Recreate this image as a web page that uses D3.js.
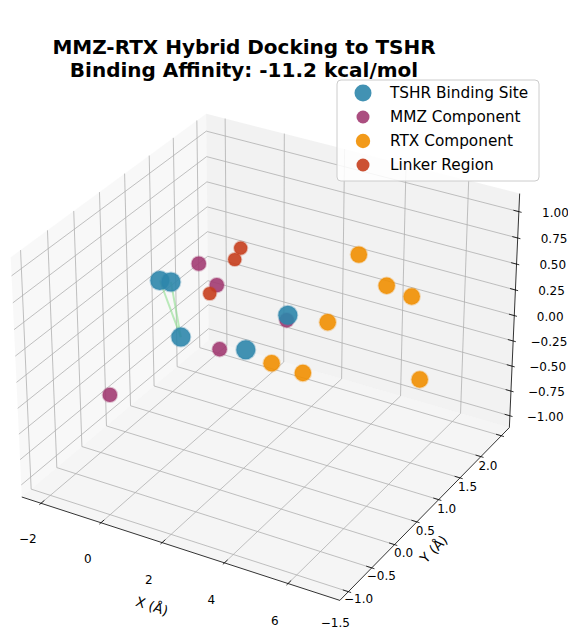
<!DOCTYPE html>
<html><head><meta charset="utf-8">
<script src="https://cdn.jsdelivr.net/npm/d3@7"></script>
<style>
body{margin:0;background:#fff}
svg{display:block}
text{font-family:"DejaVu Sans",sans-serif;fill:#000}
</style>
</head><body>
<svg id="chart" width="568" height="630"></svg>
<script>
// ---------------- data ----------------
const seriesNames = ["TSHR Binding Site", "MMZ Component", "RTX Component", "Linker Region"];
const seriesColors = ["#2E86AB", "#A23B72", "#F18F01", "#C73E1D"];

const tshrX = [-1.54, -0.67, -0.86, 1.94, 2.87];
const tshrY = [0.5, 0.2, 0.5, 1.0, -0.5];
const tshrZ = [0.23, 0.40, -0.27, -0.01, 0.32];

const mmzX = [-1.03, -0.11, -0.67, 1.15, -1.63];
const mmzY = [1.0, 0.8, 1.2, 1.5, -0.5];
const mmzZ = [0.25, 0.19, -0.65, -0.32, -0.51];

const rtxX = [3.51, 4.84, 6.18, 4.70, 4.45, 5.71, 6.23];
const rtxY = [1.5, 1.2, 0.8, 0.0, -1.0, -1.2, 1.0];
const rtxZ = [0.52, 0.44, 0.60, 0.54, 0.53, 0.63, -0.27];

const linkX = [-0.40, -0.29, -0.03];
const linkY = [1.5, 1.3, 0.6];
const linkZ = [0.27, 0.24, 0.19];

// TSHR index pairs joined by interaction lines
const interactions = [[0, 2], [1, 2]];

const xTicks = [-2, 0, 2, 4, 6];
const yTicks = [-1.5, -1.0, -0.5, 0.0, 0.5, 1.0, 1.5, 2.0];
const zTicks = [-1.0, -0.75, -0.5, -0.25, 0.0, 0.25, 0.5, 0.75, 1.0];

const xLim = [-2.65, 7.6], yLim = [-1.68, 2.2], zLim = [-1.12, 1.17];

const titleLines = ["MMZ-RTX Hybrid Docking to TSHR", "Binding Affinity: -11.2 kcal/mol"];
const axisLabels = ["X (Å)", "Y (Å)", "Z (Å)"];

// ---------------- styles / layout ----------------
const radii = [9.5, 7.2, 8.2, 6.6];
const legendRadii = [8.5, 6.5, 7.2, 6.5];
const VIEW = {elev: 30, azim: -60, dist: 10, cx: 269.9, cy: 345.8, k: 3189};
// label offsets (fractions of each axis range, outward positive) and pixel dy
const tickPush = [[0, 0.07, 0.105, 0], [-0.038, 0, 0.152, 0], [0.075, 0.075, 0, 6]];
const labelPush = [[0, 0.13, 0.15], [0.02, 0, 0.16], [0.13, 0.13, 0]];

const svg = d3.select("#chart");

// ---------------- 3D projection (matplotlib-like) ----------------
const norm0 = Math.sqrt(41);
const BOX = [4, 4, 3].map(v => v * 1.8294640721620434 / norm0);
const el = VIEW.elev * Math.PI / 180, az = VIEW.azim * Math.PI / 180;
const ps = [Math.cos(el) * Math.cos(az), Math.cos(el) * Math.sin(az), Math.sin(el)];
const eye = BOX.map((b, i) => b / 2 + VIEW.dist * ps[i]);
const dot = (a, b) => a[0] * b[0] + a[1] * b[1] + a[2] * b[2];
const cross = (a, b) => [a[1] * b[2] - a[2] * b[1], a[2] * b[0] - a[0] * b[2], a[0] * b[1] - a[1] * b[0]];
const wv = ps;
let uv = cross([0, 0, 1], wv); const un = Math.hypot(...uv); uv = uv.map(c => c / un);
const vv = cross(wv, uv);

const xS = d3.scaleLinear().domain(xLim).range([0, BOX[0]]);
const yS = d3.scaleLinear().domain(yLim).range([0, BOX[1]]);
const zS = d3.scaleLinear().domain(zLim).range([0, BOX[2]]);
const pxS = d3.scaleLinear().domain([-0.095, 0.09]).range([VIEW.cx - 0.095 * VIEW.k, VIEW.cx + 0.09 * VIEW.k]);
const pyS = d3.scaleLinear().domain([-0.095, 0.09]).range([VIEW.cy + 0.095 * VIEW.k, VIEW.cy - 0.09 * VIEW.k]);

function P(x, y, z) {
  const d = [xS(x) - eye[0], yS(y) - eye[1], zS(z) - eye[2]];
  const dep = -dot(wv, d);
  return [pxS(dot(uv, d) / dep), pyS(dot(vv, d) / dep), dep];
}
const lims = [xLim, yLim, zLim];
const mid = lims.map(l => (l[0] + l[1]) / 2);
const rng = lims.map(l => l[1] - l[0]);
function pushOut(pt, fr) {
  return pt.map((c, i) => c + Math.sign(c - mid[i]) * fr[i] * rng[i]);
}
const line = d3.line().x(d => d[0]).y(d => d[1]);
const path3 = pts => line(pts.map(p => P(...p)));

const [x0, x1] = xLim, [y0, y1] = yLim, [z0, z1] = zLim;

// ---------------- panes ----------------
const gPane = svg.append("g");
const panes = [
  {pts: [[x0, y0, z0], [x0, y1, z0], [x0, y1, z1], [x0, y0, z1]], fill: "rgb(242,242,242)"},
  {pts: [[x0, y1, z0], [x1, y1, z0], [x1, y1, z1], [x0, y1, z1]], fill: "rgb(229,229,229)"},
  {pts: [[x0, y0, z0], [x1, y0, z0], [x1, y1, z0], [x0, y1, z0]], fill: "rgb(236,236,236)"}
];
gPane.selectAll("path").data(panes).join("path")
  .attr("d", d => path3(d.pts) + "Z")
  .attr("fill", d => d.fill).attr("fill-opacity", 0.5).attr("stroke", "none");

// ---------------- grid ----------------
const gGrid = svg.append("g").attr("fill", "none").attr("stroke", "#b0b0b0").attr("stroke-width", 0.8);
xTicks.forEach(t => gGrid.append("path").attr("d", path3([[t, y0, z0], [t, y1, z0], [t, y1, z1]])));
yTicks.forEach(t => gGrid.append("path").attr("d", path3([[x0, t, z1], [x0, t, z0], [x1, t, z0]])));
zTicks.forEach(t => gGrid.append("path").attr("d", path3([[x1, y1, t], [x0, y1, t], [x0, y0, t]])));

// ---------------- axes ----------------
const axes = [
  {idx: 0, ticks: xTicks, edge: [null, y0, z0], tickdir: 1, fmt: d3.format("d"), a: [x0, y0, z0], b: [x1, y0, z0]},
  {idx: 1, ticks: yTicks, edge: [x1, null, z0], tickdir: 0, fmt: d3.format(".1f"), a: [x1, y0, z0], b: [x1, y1, z0]},
  {idx: 2, ticks: zTicks, edge: [x1, y1, null], tickdir: 0, fmt: d3.format(".2f"), a: [x1, y1, z0], b: [x1, y1, z1]}
];
const gAx = svg.append("g");
axes.forEach(ax => {
  gAx.append("path").attr("d", path3([ax.a, ax.b])).attr("stroke", "#000").attr("stroke-width", 0.8).attr("fill", "none");
  const td = ax.tickdir;
  const e = ax.edge[td];
  const sgn = Math.sign(e - mid[td]);
  const delta = rng[td] / 12;
  const tp = tickPush[ax.idx];
  ax.ticks.forEach(t => {
    const base = ax.edge.slice(); base[ax.idx] = t;
    const pOut = base.slice(); pOut[td] = e + sgn * 0.1 * delta;
    const pIn = base.slice(); pIn[td] = e - sgn * 0.2 * delta;
    gAx.append("path").attr("d", path3([pOut, pIn])).attr("stroke", "#000").attr("stroke-width", 0.8);
    const lp = P(...pushOut(base, tp));
    gAx.append("text").attr("x", lp[0]).attr("y", lp[1] + tp[3])
      .attr("text-anchor", "middle").attr("dominant-baseline", "central")
      .style("font-size", "12px").text(ax.fmt(t).replace("-", "\u2212"));
  });
  // axis label
  const m = ax.a.map((c, i) => (c + ax.b[i]) / 2);
  const lp = P(...pushOut(m, labelPush[ax.idx]));
  const pa = P(...ax.a), pb = P(...ax.b);
  let ang = Math.atan2(pb[1] - pa[1], pb[0] - pa[0]) * 180 / Math.PI;
  if (ang > 90) ang -= 180; if (ang < -90) ang += 180;
  gAx.append("text").attr("transform", `translate(${lp[0]},${lp[1]}) rotate(${ang})`)
    .attr("text-anchor", "middle").attr("dominant-baseline", "central")
    .style("font-size", "13.5px").text(axisLabels[ax.idx]);
});

// ---------------- interaction lines ----------------
const gInt = svg.append("g");
interactions.forEach(([a, b]) => {
  gInt.append("path").attr("d", path3([[tshrX[a], tshrY[a], tshrZ[a]], [tshrX[b], tshrY[b], tshrZ[b]]]))
    .attr("stroke", "#8fe08f").attr("stroke-opacity", 0.6).attr("stroke-width", 2).attr("fill", "none");
});

// ---------------- points ----------------
const series = [[tshrX, tshrY, tshrZ], [mmzX, mmzY, mmzZ], [rtxX, rtxY, rtxZ], [linkX, linkY, linkZ]];
const pts = [];
series.forEach((s, si) => s[0].forEach((xv, i) => {
  const p = P(xv, s[1][i], s[2][i]);
  pts.push({si, px: p[0], py: p[1], dep: p[2]});
}));
pts.sort((a, b) => b.dep - a.dep);
svg.append("g").selectAll("circle").data(pts).join("circle")
  .attr("cx", d => d.px).attr("cy", d => d.py).attr("r", d => radii[d.si])
  .attr("fill", d => seriesColors[d.si]).attr("fill-opacity", 0.9)
  .attr("stroke", d => seriesColors[d.si]).attr("stroke-opacity", 0.3).attr("stroke-width", 2);

// ---------------- title ----------------
const title = svg.append("text").attr("x", 244).attr("text-anchor", "middle")
  .style("font-size", "20px").style("font-weight", "bold");
titleLines.forEach((t, i) => title.append("tspan").attr("x", 244).attr("y", 54 + i * 23).text(t));

// ---------------- legend ----------------
const lg = svg.append("g").attr("transform", "translate(337,80)");
lg.append("rect").attr("width", 202).attr("height", 101).attr("rx", 4)
  .attr("fill", "#fff").attr("fill-opacity", 0.85).attr("stroke", "#cccccc").attr("stroke-width", 1);
seriesNames.forEach((n, i) => {
  const y = 13 + i * 24;
  lg.append("circle").attr("cx", 26).attr("cy", y).attr("r", legendRadii[i])
    .attr("fill", seriesColors[i]).attr("fill-opacity", 0.9);
  lg.append("text").attr("x", 53).attr("y", y).attr("dominant-baseline", "central")
    .style("font-size", "15.3px").text(n);
});
</script>
</body></html>
